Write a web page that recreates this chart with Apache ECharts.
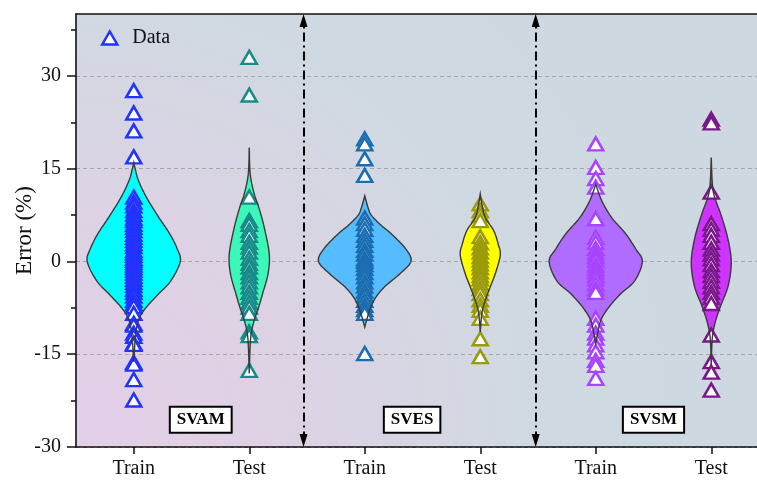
<!DOCTYPE html>
<html><head><meta charset="utf-8">
<script src="https://cdn.jsdelivr.net/npm/echarts@6/dist/echarts.min.js"></script>
<style>html,body{margin:0;padding:0;background:#fff}#c{width:757px;height:482px}</style>
</head><body><div id="c"></div>
<script>
// ---- categories / labels ----
const categories = ['Train', 'Test', 'Train', 'Test', 'Train', 'Test'];
const groupNames = ['SVAM', 'SVES', 'SVSM'];
const groupLabelX = [1.58, 3.41, 5.5];
const groupLabelY = -25.6;
const separatorX = [2.47, 4.48];
const yTicks = [-30, -15, 0, 15, 30];
const yMinorTicks = [-22.5, -7.5, 7.5, 22.5, 37.5];

// ---- error values (%) ----
const svamTrain = [27.6, 24.0, 21.1, 16.9, 10.4,
  9.6, 9.0, 8.2, 7.6, 7.0, 6.6, 6.0, 5.5, 5.0, 4.4, 3.9, 3.4, 2.9, 2.4, 1.8, 1.4, 1.0, 0.5, 0.2,
  -0.2, -0.6, -1.0, -1.4, -1.9, -2.4, -2.9, -3.4, -3.9, -4.5, -5.0, -5.6, -6.3, -6.8,
  -7.3, -8.4, -10.0, -10.3, -11.6, -12.1, -13.2, -13.4, -16.3, -16.6, -19.1, -22.4];
const svamTest = [33.0, 26.9, 10.4, 6.6, 6.0, 5.0, 4.2, 3.1, 2.3, 1.5, 0.5, -0.3, -0.9, -1.8, -2.5,
  -3.3, -4.1, -5.0, -5.8, -6.6, -7.4, -8.4, -11.4, -12.0, -17.6];
const svesTrain = [19.8, 19.0, 16.6, 13.9, 7.0, 6.1, 5.2, 4.2, 3.4, 2.6, 1.8, 1.2, 0.4, 0.0, -0.5,
  -1.1, -1.8, -2.5, -3.3, -4.0, -4.8, -5.5, -6.3, -7.1, -7.8, -8.4, -14.9];
const svesTest = [9.3, 8.2, 7.5, 6.6, 4.0, 3.0, 2.2, 1.5, 0.8, 0.2, -0.4, -1.0, -1.7, -2.3, -2.8,
  -3.6, -4.4, -5.2, -6.2, -7.1, -7.9, -9.2, -12.5, -15.4];
const svsmTrain = [19.0, 15.2, 13.4, 12.0, 6.9, 3.9, 3.1, 2.1, 1.4, 0.8, 0.2, -0.6, -1.2, -1.7, -2.3,
  -2.8, -3.6, -4.4, -5.0, -9.2, -10.3, -11.6, -12.4, -13.5, -14.6, -16.0, -16.8, -18.9];
const svsmTest = [23.0, 22.4, 11.2, 6.1, 5.2, 4.2, 3.1, 2.0, 1.2, 0.4, -0.5, -1.5, -2.3, -3.2, -4.1,
  -5.0, -5.8, -6.8, -11.9, -16.2, -17.9, -20.8];

// ---- violin density profiles: [error, relative half-width] ----
const svamTrainShape = [[16.0,0],[15.0,0.03],[13.1,0.1],[10.4,0.27],[7.1,0.54],[4.5,0.77],[2.1,0.93],[0,1],[-3.1,0.8],[-5.2,0.54],[-7.4,0.27],[-9.0,0.13],[-10.6,0.065],[-12.7,0.03],[-16.2,0]];
const svamTestShape = [[18.4,0],[14.1,0.05],[10.9,0.25],[8.8,0.47],[5.5,0.75],[1.2,1],[-2.0,0.94],[-5.2,0.67],[-7.4,0.47],[-9.5,0.25],[-11.6,0.1],[-14.0,0.04],[-18.1,0]];
const svesTrainShape = [[10.6,0],[8.5,0.08],[7.4,0.15],[5.8,0.36],[4.5,0.57],[2.0,0.89],[0,1],[-2.0,0.76],[-4.1,0.43],[-5.8,0.24],[-7.4,0.13],[-9.0,0.06],[-10.6,0]];
const svesTestShape = [[10.9,0],[9.3,0.08],[7.1,0.25],[5.0,0.67],[2.9,0.89],[1.0,1],[-2.0,0.75],[-4.1,0.5],[-6.3,0.25],[-8.4,0.08],[-11.4,0]];
const svsmTrainShape = [[12.5,0],[9.8,0.13],[7.1,0.34],[4.5,0.64],[2.0,0.86],[0,1],[-3.1,0.84],[-5.2,0.54],[-7.4,0.28],[-9.5,0.11],[-11.7,0.04],[-13.3,0]];
const svsmTestShape = [[16.8,0],[12.8,0.05],[10.6,0.15],[7.4,0.5],[3.7,0.83],[-0.1,1],[-3.9,0.85],[-7.1,0.48],[-9.8,0.2],[-12.5,0.05],[-16.8,0]];

// ---- styles ----
const FONT = '"Liberation Serif","Times New Roman",serif';
const allData = [svamTrain, svamTest, svesTrain, svesTest, svsmTrain, svsmTest];
const shapes = [svamTrainShape, svamTestShape, svesTrainShape, svesTestShape, svsmTrainShape, svsmTestShape];
const pointColors = ['#2233ff', '#178a8a', '#1a6db0', '#9a9a0a', '#a844ff', '#7a178a'];
const violinColors = ['#00ffff', '#3cf8b8', '#55bcff', '#ffff00', '#b06cff', '#cf33ff'];
const widthFrac = [0.403, 0.173, 0.40, 0.173, 0.403, 0.173];

function spline(pts) {
  const out = [];
  const n = pts.length;
  for (let i = 0; i < n - 1; i++) {
    const p0 = pts[i - 1] || pts[i], p1 = pts[i], p2 = pts[i + 1], p3 = pts[i + 2] || pts[i + 1];
    const steps = 12;
    for (let s = 0; s < steps; s++) {
      const t = s / steps, t2 = t * t, t3 = t2 * t;
      const f = k => 0.5 * ((2 * p1[k]) + (-p0[k] + p2[k]) * t + (2 * p0[k] - 5 * p1[k] + 4 * p2[k] - p3[k]) * t2 + (-p0[k] + 3 * p1[k] - 3 * p2[k] + p3[k]) * t3);
      out.push([f(0), f(1)]);
    }
  }
  out.push(pts[n - 1]);
  return out;
}
function violinPoints(api, idx) {
  const xv = idx + 1;
  const half = api.size([1, 0])[0] * widthFrac[idx];
  const cx = api.coord([xv, 0])[0];
  const pts = shapes[idx].map(([v, w]) => [w * half, api.coord([xv, v])[1]]);
  const r = spline(pts);
  const right = r.map(p => [cx + Math.max(0, p[0]), p[1]]);
  const left = r.slice().reverse().map(p => [cx - Math.max(0, p[0]), p[1]]);
  return right.concat(left);
}

const violinData = categories.map((c, i) => [i + 1, 0]);
const series = [];
series.push({
  type: 'custom', name: 'violinFill', z: 1, silent: true, data: violinData,
  renderItem: (params, api) => ({
    type: 'polygon', shape: { points: violinPoints(api, params.dataIndex) },
    style: { fill: violinColors[params.dataIndex], stroke: null }
  })
});
allData.forEach((arr, i) => {
  series.push({
    type: 'scatter', name: i === 0 ? 'Data' : ('d' + i), z: 2, silent: true,
    symbol: 'triangle', symbolSize: [15, 13],
    itemStyle: { color: '#ffffff', borderColor: pointColors[i], borderWidth: 2.5, opacity: 1 },
    data: arr.map(v => [i + 1, v])
  });
});
series.push({
  type: 'custom', name: 'violinLine', z: 3, silent: true, data: violinData,
  renderItem: (params, api) => ({
    type: 'polygon', shape: { points: violinPoints(api, params.dataIndex) },
    style: { fill: null, stroke: '#3a3a3a', lineWidth: 1.4 }
  })
});
series.push({
  type: 'custom', name: 'groups', z: 5, silent: true,
  data: groupNames.map((g, i) => [groupLabelX[i], groupLabelY]),
  renderItem: (params, api) => {
    const p = api.coord([api.value(0), api.value(1)]);
    return {
      type: 'text', x: p[0], y: p[1],
      style: {
        text: groupNames[params.dataIndex], align: 'center', verticalAlign: 'middle',
        font: 'bold 17px ' + FONT, fill: '#000',
        backgroundColor: '#fff', borderColor: '#000', borderWidth: 2, padding: [4, 6, 3, 6]
      }
    };
  },
  markLine: {
    silent: true, symbol: ['triangle', 'triangle'], symbolSize: [8, 13], animation: false,
    label: { show: false },
    lineStyle: { color: '#000', width: 2, type: [9, 4, 2, 4] },
    data: separatorX.map(x => [{ coord: [x, -28.95] }, { coord: [x, 38.95] }])
  }
});

const chart = echarts.init(document.getElementById('c'), null, { renderer: 'canvas' });
chart.setOption({
  animation: false,
  backgroundColor: '#ffffff',
  grid: {
    left: 76, top: 14, right: -12, bottom: 35, show: true, borderWidth: 0,
    containLabel: false, outerBoundsMode: 'none',
    backgroundColor: {
      type: 'radial', x: 0, y: 1, r: 1.45,
      colorStops: [
        { offset: 0, color: '#e4cee8' }, { offset: 0.35, color: '#ddd2e4' },
        { offset: 0.72, color: '#d0d9e2' }, { offset: 1, color: '#cdd8e0' }
      ]
    }
  },
  legend: {
    left: 96, top: 23, itemWidth: 15, itemHeight: 13,
    data: [{ name: 'Data', icon: 'triangle', itemStyle: { color: '#fff', borderColor: '#2233ff', borderWidth: 2.5 } }],
    textStyle: { fontFamily: FONT, fontSize: 20, color: '#111', padding: [0, 0, 0, 10] }
  },
  xAxis: [{
    type: 'value', min: 0.5, max: 6.5,
    axisLine: { show: true, onZero: false, lineStyle: { color: '#111', width: 1.6 } },
    axisTick: { show: true, customValues: [1, 2, 3, 4, 5, 6], length: 7, lineStyle: { color: '#111', width: 1.5 } },
    axisLabel: { customValues: [1, 2, 3, 4, 5, 6], formatter: v => categories[Math.round(v) - 1], margin: 12, fontFamily: FONT, fontSize: 20, color: '#111' },
    splitLine: { show: false }
  }, {
    type: 'value', min: 0.5, max: 6.5, position: 'top',
    axisLine: { show: true, onZero: false, lineStyle: { color: '#111', width: 1.6 } },
    axisTick: { show: false }, axisLabel: { show: false }, splitLine: { show: false }
  }],
  yAxis: [{
    type: 'value', min: -30, max: 40, interval: 7.5,
    name: 'Error (%)', nameLocation: 'middle', nameGap: 40, nameMoveOverlap: false,
    nameTextStyle: { fontFamily: FONT, fontSize: 23, color: '#111' },
    axisLine: { show: true, onZero: false, lineStyle: { color: '#111', width: 1.6 } },
    axisTick: { show: true, customValues: yTicks, length: 9, lineStyle: { color: '#111', width: 1.5 } },
    axisLabel: { customValues: yTicks, margin: 15, fontFamily: FONT, fontSize: 20, color: '#111' },
    splitLine: { show: true, lineStyle: { color: '#a8a8a8', width: 1, type: [4, 3] } }
  }, {
    type: 'value', min: -30, max: 40, position: 'left',
    axisLine: { show: false },
    axisTick: { show: true, customValues: yMinorTicks, length: 5, lineStyle: { color: '#111', width: 1.5 } },
    axisLabel: { show: false }, splitLine: { show: false }
  }],
  series: series
});
</script>
</body></html>
